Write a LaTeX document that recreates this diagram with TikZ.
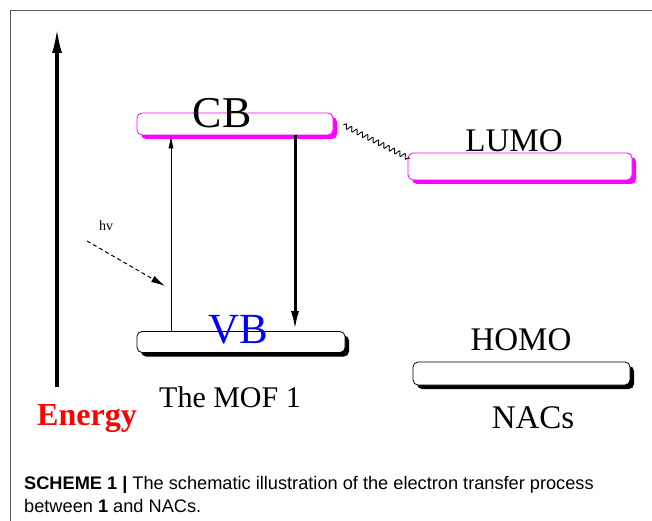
\documentclass[tikz,border=0pt]{standalone}
\usepackage{fontspec}
\setmainfont{Liberation Serif}
\newfontfamily\capfont{Liberation Sans}
\usetikzlibrary{positioning,calc,arrows.meta,shadows,decorations.pathmorphing}

\definecolor{levelpink}{RGB}{255,0,255}
\definecolor{vbblue}{RGB}{0,0,255}
\definecolor{energyred}{RGB}{255,0,0}

\tikzset{
  levelbar/.style={draw, fill=white, rounded corners=5pt, inner sep=0pt, line width=0.8pt},
  magentabar/.style={levelbar, draw=levelpink, general shadow={shadow xshift=4pt, shadow yshift=-4pt, fill=levelpink}},
  blackbar/.style={levelbar, draw=black, general shadow={shadow xshift=4pt, shadow yshift=-4pt, fill=black}},
}

\begin{document}
\begin{tikzpicture}[x=1pt,y=-1pt]
\useasboundingbox (0,0) rectangle (652,521);

% Frame
\draw[gray!70!black, line width=0.8pt] (10,521) -- (10,10) -- (652,10);

% Energy axis
\coordinate (ebot) at (57,387);
\coordinate (etop) at (57,27);
\draw[line width=3.5pt, -{Latex[length=26pt,width=10pt]}] (ebot) -- (etop);
\node[energyred, font=\fontsize{32}{36}\selectfont\bfseries, anchor=base] (energy) at (87,425) {Energy};

% Levels
\node[magentabar, minimum width=196pt, minimum height=22pt] (cb) at (235,124) {};
\node[blackbar, minimum width=208pt, minimum height=21pt] (vb) at (241,342) {};
\node[magentabar, minimum width=224pt, minimum height=27pt] (lumo) at (520,166.5) {};
\node[blackbar, minimum width=217pt, minimum height=23pt] (homo) at (521.5,373.5) {};

% Level labels
\node[font=\fontsize{44}{48}\selectfont, anchor=base] (cbtext) at (222,128) {CB};
\node[vbblue, font=\fontsize{43}{48}\selectfont, anchor=base] (vbtext) at (238,343) {VB};
\node[font=\fontsize{33}{38}\selectfont, anchor=base] (lumotext) at (514,152) {LUMO};
\node[font=\fontsize{33}{38}\selectfont, anchor=base] (homotext) at (521,350) {HOMO};
\node[font=\fontsize{30}{34}\selectfont, anchor=base] (moftext) at (230,407) {The MOF 1};
\node[font=\fontsize{33}{38}\selectfont, anchor=base] (nactext) at (533,428) {NACs};

% Transitions
\draw[line width=0.6pt, -{Latex[length=13pt,width=5pt]}] (vb.north -| 171,0) -- (cb.south -| 171,0);
\draw[line width=3pt, -{Latex[length=20pt,width=8pt]}] (cb.south -| 295,0) -- (vb.north -| 295,0);
\draw[decorate, decoration={snake, amplitude=2.4pt, segment length=6pt}, line width=0.9pt]
  ($(cb.east)+(10,1)$) -- ($(lumo.north west)+(2,6)$);

% Light
\node[font=\fontsize{14}{16}\selectfont, anchor=base] (hv) at (106,230) {hv};
\coordinate (hvstart) at (87,241);
\coordinate (hvend) at (165,286);
\draw[dash pattern=on 4pt off 3pt, line width=1pt, -{Latex[length=14pt,width=7pt]}] (hvstart) -- (hvend);

% Caption
\node[font=\capfont\fontsize{18.2}{23}\selectfont, anchor=base west, inner sep=0pt] (cap1) at (24,489)
  {\textbf{SCHEME 1 |} The schematic illustration of the electron transfer process};
\node[font=\capfont\fontsize{18.2}{23}\selectfont, anchor=base west, inner sep=0pt] (cap2) at (24,512)
  {between \textbf{1} and NACs.};
\end{tikzpicture}
\end{document}
